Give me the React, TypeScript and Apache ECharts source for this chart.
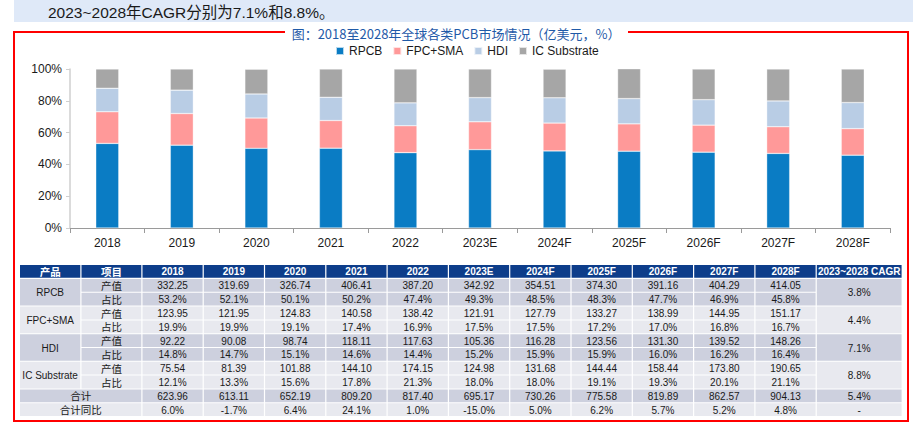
import React, { useEffect, useRef } from 'react';
import * as echarts from 'echarts';

const years = ['2018', '2019', '2020', '2021', '2022', '2023E', '2024F', '2025F', '2026F', '2027F', '2028F'];
const products = ['RPCB', 'FPC+SMA', 'HDI', 'IC Substrate'];
const rpcbValue = [332.25, 319.69, 326.74, 406.41, 387.2, 342.92, 354.51, 374.3, 391.16, 404.29, 414.05];
const rpcbShare = [53.2, 52.1, 50.1, 50.2, 47.4, 49.3, 48.5, 48.3, 47.7, 46.9, 45.8];
const fpcValue = [123.95, 121.95, 124.83, 140.58, 138.42, 121.91, 127.79, 133.27, 138.99, 144.95, 151.17];
const fpcShare = [19.9, 19.9, 19.1, 17.4, 16.9, 17.5, 17.5, 17.2, 17.0, 16.8, 16.7];
const hdiValue = [92.22, 90.08, 98.74, 118.11, 117.63, 105.36, 116.28, 123.56, 131.3, 139.52, 148.26];
const hdiShare = [14.8, 14.7, 15.1, 14.6, 14.4, 15.2, 15.9, 15.9, 16.0, 16.2, 16.4];
const icValue = [75.54, 81.39, 101.88, 144.1, 174.15, 124.98, 131.68, 144.44, 158.44, 173.8, 190.65];
const icShare = [12.1, 13.3, 15.6, 17.8, 21.3, 18.0, 18.0, 19.1, 19.3, 20.1, 21.1];
const totalValue = [623.96, 613.11, 652.19, 809.2, 817.4, 695.17, 730.26, 775.58, 819.89, 862.57, 904.13];
const totalYoY = [6.0, -1.7, 6.4, 24.1, 1.0, -15.0, 5.0, 6.2, 5.7, 5.2, 4.8];
const cagr = ['3.8%', '4.4%', '7.1%', '8.8%', '5.4%', '-'];
const tableHeader = ['产品', '项目'];
const itemLabels = ['产值', '占比'];
const totalLabels = ['合计', '合计同比'];
const cagrHeader = '2023~2028 CAGR';
const topText = '2023~2028年CAGR分别为7.1%和8.8%。';
const titleText = '图：2018至2028年全球各类PCB市场情况（亿美元，%）';

const colors = ['#0a7cc4', '#ff9999', '#b9cde5', '#a6a6a6'];
const FONT = '"Liberation Sans", Arial, "Noto Sans CJK SC", sans-serif';

function buildGraphics() {
  const els: any[] = [];
  // top band
  els.push({ type: 'rect', shape: { x: 14, y: 0, width: 899, height: 22 }, style: { fill: '#dfe9f8' }, z: 1 });
  els.push({
    type: 'text', x: 48, y: 12, z: 2,
    style: { text: topText, fill: '#1a1a1a', fontSize: 15.5, fontFamily: FONT, textAlign: 'left', textVerticalAlign: 'middle', align: 'left', verticalAlign: 'middle' },
  });
  // red frame
  els.push({
    type: 'polyline', z: 2,
    shape: { points: [[285, 32], [14, 32], [14, 421], [908, 421], [908, 32], [628, 32]] },
    style: { stroke: '#ff0000', lineWidth: 2, fill: null },
  });
  els.push({
    type: 'text', x: 456, y: 33, z: 2,
    style: { text: titleText, fill: '#1f5aa8', fontSize: 13, fontFamily: '"Noto Sans CJK SC", sans-serif', textAlign: 'center', textVerticalAlign: 'middle', align: 'center', verticalAlign: 'middle' },
  });

  // table
  const widths = [61.5, 61];
  for (let i = 0; i < years.length; i++) widths.push(61.3);
  widths.push(86);
  const colX: number[] = [20];
  widths.forEach((w, i) => colX.push(colX[i] + w));
  const headY = 265;
  const headH = 12.8;
  const rowY0 = 279;
  const rh = 13.8;
  const dark = '#cdd0de';
  const light = '#e8e9ef';
  const headFill = '#0d3d8a';

  const cell = (x: number, y: number, w: number, h: number, fill: string, text: string, color = '#1a1a1a', bold = false, size = 10) => {
    els.push({ type: 'rect', z: 3, shape: { x, y, width: w - 1.2, height: h }, style: { fill } });
    els.push({
      type: 'text', z: 4, x: x + (w - 1.2) / 2, y: y + h / 2 + 0.5,
      style: { text, fill: color, fontSize: size, fontWeight: bold ? 'bold' : 'normal', fontFamily: FONT, textAlign: 'center', textVerticalAlign: 'middle', align: 'center', verticalAlign: 'middle' },
    });
  };

  const headers = [...tableHeader, ...years, cagrHeader];
  headers.forEach((h, i) => {
    cell(colX[i], headY, widths[i], headH, headFill, h, '#ffffff', true, i < 2 ? 10.5 : 10);
  });

  const values = [rpcbValue, fpcValue, hdiValue, icValue];
  const shares = [rpcbShare, fpcShare, hdiShare, icShare];
  const rowTop = (r: number) => rowY0 + r * rh;
  products.forEach((p, g) => {
    const fill = g % 2 === 0 ? dark : light;
    cell(colX[0], rowTop(2 * g), widths[0], 2 * rh - 1, fill, p);
    for (let k = 0; k < 2; k++) {
      const r = 2 * g + k;
      cell(colX[1], rowTop(r), widths[1], rh - 1, fill, itemLabels[k], '#1a1a1a', false, 10.5);
      years.forEach((_, j) => {
        const t = k === 0 ? values[g][j].toFixed(2) : shares[g][j].toFixed(1) + '%';
        cell(colX[2 + j], rowTop(r), widths[2 + j], rh - 1, fill, t);
      });
    }
    cell(colX[13], rowTop(2 * g), widths[13], 2 * rh - 1, fill, cagr[g]);
  });
  // totals
  [0, 1].forEach((k) => {
    const r = 8 + k;
    const fill = k === 0 ? dark : light;
    cell(colX[0], rowTop(r), widths[0] + widths[1], rh - 1, fill, totalLabels[k], '#1a1a1a', false, 10.5);
    years.forEach((_, j) => {
      const t = k === 0 ? totalValue[j].toFixed(2) : totalYoY[j].toFixed(1) + '%';
      cell(colX[2 + j], rowTop(r), widths[2 + j], rh - 1, fill, t);
    });
    cell(colX[13], rowTop(r), widths[13], rh - 1, fill, cagr[4 + k]);
  });
  return els;
}

export default function App() {
  const ref = useRef<HTMLDivElement>(null);
  useEffect(() => {
    if (!ref.current) return;
    const chart = echarts.init(ref.current, undefined, { renderer: 'svg' });
    const shareSeries = [rpcbShare, fpcShare, hdiShare, icShare];
    chart.setOption({
      animation: false,
      backgroundColor: '#ffffff',
      legend: {
        left: 330,
        top: 40,
        itemWidth: 8,
        itemHeight: 8,
        itemGap: 10,
        icon: 'rect',
        textStyle: { fontSize: 12, color: '#1a1a1a', fontFamily: FONT },
        data: products,
      },
      grid: { left: 70, right: 23, top: 69, bottom: 196, containLabel: false },
      xAxis: {
        type: 'category',
        data: years,
        axisLine: { lineStyle: { color: '#9a9a9a', width: 1 } },
        axisTick: { show: true, length: 5, lineStyle: { color: '#9a9a9a' } },
        axisLabel: { fontSize: 12, color: '#1a1a1a', fontFamily: FONT, margin: 9 },
      },
      yAxis: {
        type: 'value',
        min: 0,
        max: 100,
        interval: 20,
        axisLine: { show: true, lineStyle: { color: '#cfcfcf', width: 1.5 } },
        axisTick: { show: true, length: 4, lineStyle: { color: '#cfcfcf' } },
        splitLine: { show: false },
        axisLabel: { fontSize: 12, color: '#1a1a1a', fontFamily: FONT, margin: 8, formatter: '{value}%' },
      },
      series: products.map((p, i) => ({
        name: p,
        type: 'bar',
        stack: 'total',
        barWidth: 23,
        data: shareSeries[i],
        itemStyle: { color: colors[i], borderColor: 'rgba(255,255,255,0.7)', borderWidth: 0.5 },
      })),
      graphic: buildGraphics(),
    });
    return () => chart.dispose();
  }, []);
  return <div ref={ref} style={{ position: 'fixed', left: 0, top: 0, width: 913, height: 424 }} />;
}
